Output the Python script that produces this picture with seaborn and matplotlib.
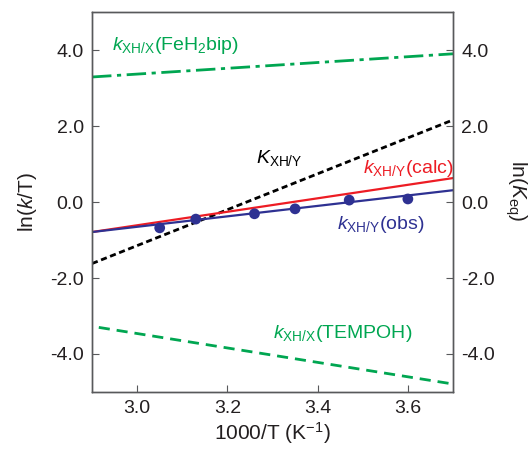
import matplotlib
matplotlib.use('Agg')
import matplotlib.pyplot as plt
import numpy as np
import seaborn as sns
import pandas as pd

sns.set_style('ticks')
plt.rcParams['font.family'] = ['Liberation Sans', 'DejaVu Sans']
plt.rcParams['mathtext.fontset'] = 'custom'
plt.rcParams['mathtext.rm'] = 'Liberation Sans'
plt.rcParams['mathtext.it'] = 'Liberation Sans:italic'
plt.rcParams['axes.unicode_minus'] = False

# data
x_ends = [2.9, 3.7]
obs_fit = [-0.79, 0.31]
calc_fit = [-0.79, 0.63]
keq_fit = [-1.62, 2.16]
febip_fit = [3.29, 3.90]
tempoh_x = [2.915, 3.7]
tempoh_fit = [-3.30, -4.79]
obs_x = [3.05, 3.13, 3.26, 3.35, 3.47, 3.60]
obs_y = [-0.68, -0.45, -0.31, -0.18, 0.05, 0.08]
yticks = [-4.0, -2.0, 0.0, 2.0, 4.0]
xticks = [3.0, 3.2, 3.4, 3.6]

blue = '#2e3192'
red = '#ed1c24'
green = '#00a651'
spine_c = '#58595b'
text_c = '#231f20'

fig = plt.figure(figsize=(5.31, 4.5), dpi=100)
ax = fig.add_axes([0.1733, 0.1289, 0.6798, 0.8444])

sns.lineplot(x=x_ends, y=febip_fit, color=green, lw=2, ax=ax)
ax.lines[-1].set_dashes([7, 2, 1.5, 2])
sns.lineplot(x=tempoh_x, y=tempoh_fit, color=green, lw=2, ax=ax)
ax.lines[-1].set_dashes([4, 2.5])
sns.lineplot(x=x_ends, y=keq_fit, color='black', lw=2, ax=ax)
ax.lines[-1].set_dashes([2.2, 1.3])
sns.lineplot(x=x_ends, y=calc_fit, color=red, lw=1.6, ax=ax)
sns.lineplot(x=x_ends, y=obs_fit, color=blue, lw=1.6, ax=ax)
sns.scatterplot(x=obs_x, y=obs_y, color=blue, s=60, edgecolor='none', ax=ax, zorder=5)

ax.set_xlim(2.9, 3.7)
ax.set_ylim(-5, 5)
ax.set_xticks(xticks)
ax.set_xticklabels([f'{v:.1f}' for v in xticks])
ax.set_yticks(yticks)
ax.set_yticklabels([f'{v:.1f}' for v in yticks])

for s in ax.spines.values():
    s.set_color(spine_c)
    s.set_linewidth(1.0)
ax.tick_params(direction='in', length=5, color=spine_c, labelsize=14,
               labelcolor=text_c, pad=6)

ax2 = ax.twinx()
ax2.set_ylim(-5, 5)
ax2.set_yticks(yticks)
ax2.set_yticklabels([f'{v:.1f}' for v in yticks])
for s in ax2.spines.values():
    s.set_color(spine_c)
    s.set_linewidth(1.0)
ax2.tick_params(direction='in', length=5, color=spine_c, labelsize=14,
                labelcolor=text_c, pad=6)

ax.set_xlabel('1000/T (K$^{-1}$)', fontsize=15, color=text_c, labelpad=2)
ax.set_ylabel('ln($k$/T)', fontsize=15, color=text_c, labelpad=8)
ax2.set_ylabel('ln($K_{\\mathrm{eq}}$)', fontsize=15, color=text_c,
               rotation=270, va='center', ha='center')
ax2.yaxis.set_label_coords(1.175, 0.53)

fs = 14
ax.text(2.945, 4.0, '$k_{\\mathrm{XH/X}}$(FeH$_{2}$bip)', color=green, fontsize=fs)
ax.text(3.264, 1.03, '$K_{\\mathrm{XH/Y}}$', color='black', fontsize=fs)
ax.text(3.50, 0.76, '$k_{\\mathrm{XH/Y}}$(calc)', color=red, fontsize=fs)
ax.text(3.444, -0.71, '$k_{\\mathrm{XH/Y}}$(obs)', color=blue, fontsize=fs)
ax.text(3.30, -3.58, '$k_{\\mathrm{XH/X}}$(TEMPOH)', color=green, fontsize=fs)

fig.savefig('out.png', dpi=100)
